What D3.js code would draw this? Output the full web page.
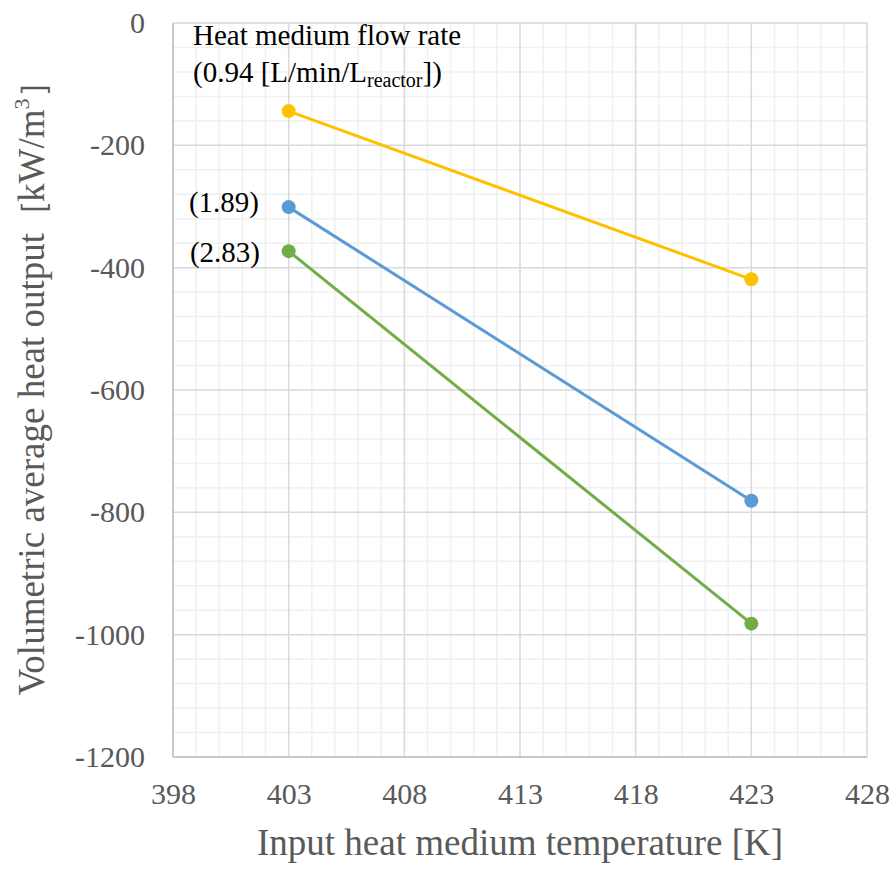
<!DOCTYPE html>
<html>
<head>
<meta charset="utf-8">
<script src="https://cdn.jsdelivr.net/npm/d3@7"></script>
<style>
  html, body { margin: 0; padding: 0; background: #fff; }
  svg { display: block; }
  svg text { font-family: "Liberation Serif", "Times New Roman", serif; }
</style>
</head>
<body>
<svg id="chart" width="896" height="869"></svg>
<script>
// Input heat medium temperature [K]
const temperatures = [403, 423];

// Volumetric average heat output [kW/m3] for each heat medium flow rate [L/min/L_reactor]
const flowRates = ["0.94", "1.89", "2.83"];
const output094 = [-144, -419];
const output189 = [-301, -781];
const output283 = [-373, -982];
const seriesColors = ["#FFC000", "#5B9BD5", "#70AD47"];

const xTicks = [398, 403, 408, 413, 418, 423, 428];
const yTicks = [0, -200, -400, -600, -800, -1000, -1200];

const series = [
  { rate: flowRates[0], values: output094, color: seriesColors[0] },
  { rate: flowRates[1], values: output189, color: seriesColors[1] },
  { rate: flowRates[2], values: output283, color: seriesColors[2] }
];

const svg = d3.select("#chart");
const margin = { left: 173, top: 23, right: 29, bottom: 112 };
const W = 896, H = 869;
const x = d3.scaleLinear().domain([398, 428]).range([margin.left, W - margin.right]);
const y = d3.scaleLinear().domain([0, -1200]).range([margin.top, H - margin.bottom]);

const grid = svg.append("g");
// minor grid: every 1 K and every 40 kW/m3
const minorX = d3.range(399, 428, 1).filter(v => (v - 398) % 5 !== 0);
const minorY = d3.range(-40, -1200, -40).filter(v => v % 200 !== 0);
grid.selectAll("line.mx").data(minorX).join("line")
  .attr("x1", d => x(d)).attr("x2", d => x(d))
  .attr("y1", y(0)).attr("y2", y(-1200))
  .attr("stroke", "#f0f0f0").attr("stroke-width", 1.5);
grid.selectAll("line.my").data(minorY).join("line")
  .attr("x1", x(398)).attr("x2", x(428))
  .attr("y1", d => y(d)).attr("y2", d => y(d))
  .attr("stroke", "#f0f0f0").attr("stroke-width", 1.5);
// major grid
grid.selectAll("line.MX").data(xTicks).join("line")
  .attr("x1", d => x(d)).attr("x2", d => x(d))
  .attr("y1", y(0)).attr("y2", y(-1200))
  .attr("stroke", "#d9d9d9").attr("stroke-width", 1.5);
grid.selectAll("line.MY").data(yTicks).join("line")
  .attr("x1", x(398)).attr("x2", x(428))
  .attr("y1", d => y(d)).attr("y2", d => y(d))
  .attr("stroke", "#d9d9d9").attr("stroke-width", 1.5);

// axis lines
svg.append("line").attr("x1", x(398)).attr("x2", x(398)).attr("y1", y(0)).attr("y2", y(-1200))
  .attr("stroke", "#bfbfbf").attr("stroke-width", 1.5);
svg.append("line").attr("x1", x(398)).attr("x2", x(428)).attr("y1", y(-1200)).attr("y2", y(-1200))
  .attr("stroke", "#bfbfbf").attr("stroke-width", 1.5);

// tick labels
const fmt = d => String(d);
const xAxis = d3.axisBottom(x).tickValues(xTicks).tickFormat(fmt).tickSize(0).tickPadding(26);
const gx = svg.append("g").attr("transform", `translate(0,${y(-1200)})`).call(xAxis);
gx.select(".domain").remove();
gx.attr("font-family", null).attr("font-size", null);
gx.selectAll("text").attr("font-size", 30).attr("fill", "#595959");

const yAxis = d3.axisLeft(y).tickValues(yTicks).tickFormat(fmt).tickSize(0).tickPadding(28);
const gy = svg.append("g").attr("transform", `translate(${x(398)},0)`).call(yAxis);
gy.select(".domain").remove();
gy.attr("font-family", null).attr("font-size", null);
gy.selectAll("text").attr("font-size", 30).attr("fill", "#595959");

// series lines and markers
const line = d3.line().x((d, i) => x(temperatures[i])).y(d => y(d));
series.forEach(s => {
  svg.append("path").attr("d", line(s.values)).attr("fill", "none")
    .attr("stroke", s.color).attr("stroke-width", 3);
  svg.selectAll(null).data(s.values).join("circle")
    .attr("cx", (d, i) => x(temperatures[i])).attr("cy", d => y(d))
    .attr("r", 7).attr("fill", s.color);
});

// flow rate annotations
const ann = svg.append("g").attr("font-size", 29).attr("fill", "#000");
ann.append("text").attr("x", 193).attr("y", 45).text("Heat medium flow rate");
const t2 = ann.append("text").attr("x", 193).attr("y", 82);
t2.append("tspan").text(`(${series[0].rate} [L/min/L`);
t2.append("tspan").attr("font-size", 20).attr("dy", 5).text("reactor");
t2.append("tspan").attr("dy", -5).text("])");
ann.append("text").attr("x", 259).attr("y", y(series[1].values[0]) + 5)
  .attr("text-anchor", "end").text(`(${series[1].rate})`);
ann.append("text").attr("x", 260).attr("y", y(series[2].values[0]) + 11)
  .attr("text-anchor", "end").text(`(${series[2].rate})`);

// axis titles
svg.append("text").attr("x", 520).attr("y", 855).attr("text-anchor", "middle")
  .attr("font-size", 37).attr("fill", "#595959").text("Input heat medium temperature [K]");
const yt = svg.append("text").attr("transform", "translate(44,380) rotate(-90)")
  .attr("text-anchor", "middle").attr("font-size", 37).attr("fill", "#595959");
yt.append("tspan").text("Volumetric average heat output");
yt.append("tspan").attr("font-size", 34).text("［");
yt.append("tspan").attr("dx", -3).text("kW/m");
yt.append("tspan").attr("font-size", 22).attr("dy", -15).text("3");
yt.append("tspan").attr("dy", 15).attr("font-size", 34).text("］");
</script>
</body>
</html>
